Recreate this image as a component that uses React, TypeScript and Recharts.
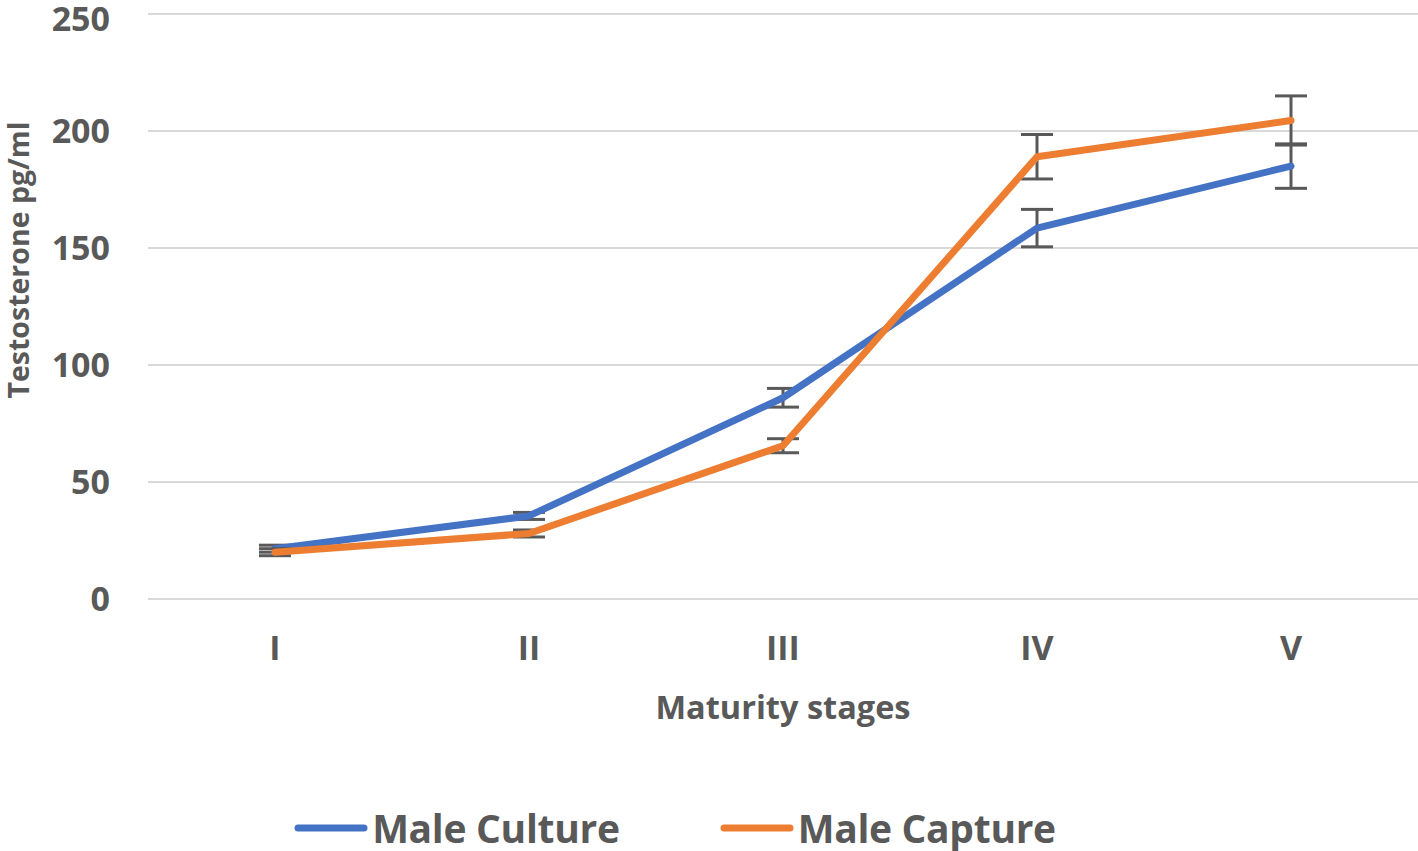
import React from 'react';
import { LineChart, Line, XAxis, YAxis, CartesianGrid, Legend, ErrorBar } from 'recharts';

const stages = ['I', 'II', 'III', 'IV', 'V'];
const maleCulture = [21.5, 35.5, 86, 158.5, 185];
const maleCultureErr = [1.5, 1.5, 4, 8, 9.5];
const maleCapture = [20, 28, 65.5, 189, 204.5];
const maleCaptureErr = [1.5, 1.5, 3, 9.5, 10.5];
const yTicks = [0, 50, 100, 150, 200, 250];

const seriesList = [
  { key: 'culture', name: 'Male Culture', color: '#4472c4' },
  { key: 'capture', name: 'Male Capture', color: '#ed7d31' },
];

const data = stages.map((s, i) => ({
  stage: s,
  culture: maleCulture[i],
  cultureErr: maleCultureErr[i],
  capture: maleCapture[i],
  captureErr: maleCaptureErr[i],
}));

const FONT = '"Open Sans", sans-serif';
const GREY = '#595959';

function LegendContent() {
  return (
    <div style={{ height: 46, display: 'flex', justifyContent: 'center', alignItems: 'center', paddingRight: 68 }}>
      {seriesList.map((s, i) => (
        <div key={s.key} style={{ display: 'flex', alignItems: 'center', marginLeft: i ? 100 : 0 }}>
          <svg width={74} height={10} style={{ marginRight: 4 }}>
            <line x1={4} y1={5} x2={70} y2={5} stroke={s.color} strokeWidth={7} strokeLinecap="round" />
          </svg>
          <span
            style={{ fontFamily: FONT, fontWeight: 700, fontSize: 39, lineHeight: '44px', color: GREY, letterSpacing: -0.3 }}
          >
            {s.name}
          </span>
        </div>
      ))}
    </div>
  );
}

export default function App() {
  return (
    <div style={{ position: 'absolute', left: 0, top: 0, background: '#fff' }}>
      <LineChart width={1418} height={851} data={data} margin={{ top: 14, right: 0, left: 0, bottom: 0 }}>
        <CartesianGrid vertical={false} stroke="#d9d9d9" strokeWidth={2} />
        <XAxis
          dataKey="stage"
          height={206}
          padding={{ left: 127, right: 127 }}
          axisLine={false}
          tickLine={false}
          tickSize={0}
          tickMargin={37}
          tick={{ fill: GREY, fontSize: 34, fontWeight: 700, fontFamily: FONT }}
          label={{
            value: 'Maturity stages',
            position: 'insideBottom',
            offset: 86,
            fill: GREY,
            fontSize: 32.5,
            fontWeight: 700,
            fontFamily: FONT,
          }}
        />
        <YAxis
          width={148}
          domain={[0, 250]}
          ticks={yTicks}
          axisLine={false}
          tickLine={false}
          tickSize={0}
          tickMargin={38}
          tick={{ fill: GREY, fontSize: 34, fontWeight: 700, fontFamily: FONT }}
          label={{
            content: () => (
              <text
                x={29}
                y={260}
                transform="rotate(-90 29 260)"
                textAnchor="middle"
                fill={GREY}
                fontSize={28.5}
                fontWeight={700}
                fontFamily={FONT}
              >
                Testosterone pg/ml
              </text>
            ),
          }}
        />
        <Legend verticalAlign="bottom" content={<LegendContent />} />
        {seriesList.map((s) => (
          <Line
            key={s.key}
            dataKey={s.key}
            name={s.name}
            stroke={s.color}
            strokeWidth={7}
            strokeLinejoin="round"
            strokeLinecap="round"
            dot={false}
            activeDot={false}
            isAnimationActive={false}
          >
            <ErrorBar dataKey={s.key + 'Err'} width={16} stroke={GREY} strokeWidth={3} />
          </Line>
        ))}
      </LineChart>
    </div>
  );
}
